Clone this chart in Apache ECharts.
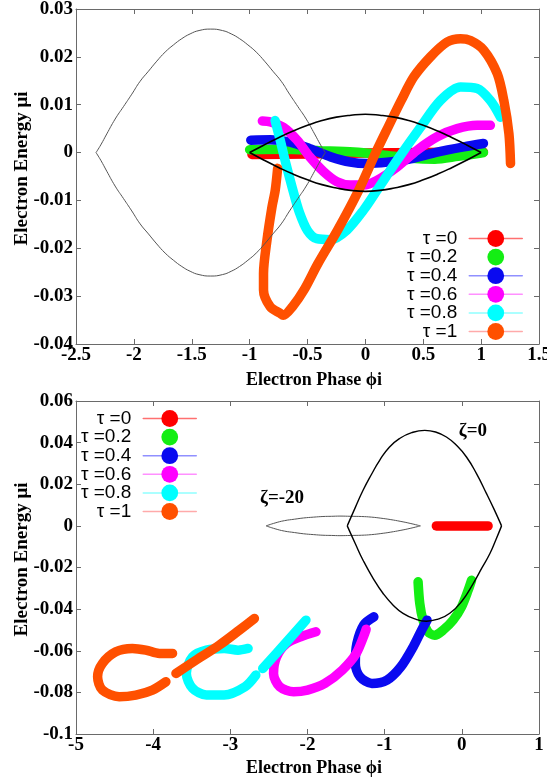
<!DOCTYPE html>
<html>
<head>
<meta charset="utf-8">
<script src="https://cdn.jsdelivr.net/npm/echarts@6/dist/echarts.min.js"></script>
<style>
  html, body { margin: 0; padding: 0; background: #fff; }
  #main { width: 547px; height: 780px; }
</style>
</head>
<body>
<div id="main"></div>
<script>
// ---- axis ticks ----
var topXTicks = [-2.5, -2, -1.5, -1, -0.5, 0, 0.5, 1, 1.5];
var topYTicks = [-0.04, -0.03, -0.02, -0.01, 0, 0.01, 0.02, 0.03];
var botXTicks = [-5, -4, -3, -2, -1, 0, 1];
var botYTicks = [-0.1, -0.08, -0.06, -0.04, -0.02, 0, 0.02, 0.04, 0.06];

var tauNames = ['τ =0', 'τ =0.2', 'τ =0.4', 'τ =0.6', 'τ =0.8', 'τ =1'];
var tauColors = ['#ff0000', '#14ee14', '#0a0af0', '#ff00ff', '#00ffff', '#ff5000'];
var legendLineColors = ['#ff7070', null, '#9090ff', '#ff90ff', '#90ffff', '#ffaaaa'];

// ---- upper panel: phase space trajectories (phase, energy) ----
var topTau0 = [[-0.98, -0.0004], [-0.5, -0.0003], [0, -0.0001], [0.5, 0.0000], [1.02, 0.0001]];
var topTau02 = [[-1.0, 0.0006], [-0.7, 0.0007], [-0.4, 0.0004], [-0.1, 0.0001], [0.15, -0.0005],
  [0.4, -0.0012], [0.6, -0.0014], [0.8, -0.0008], [1.0, -0.0001], [1.02, 0.0]];
var topTau04 = [[-0.99, 0.0026], [-0.82, 0.0027], [-0.65, 0.0022], [-0.48, 0.0008], [-0.3, -0.0009],
  [-0.13, -0.002], [0.015, -0.0023], [0.19, -0.002], [0.39, -0.0013], [0.62, 0.0001], [0.85, 0.0012], [1.02, 0.0019]];
var topTau06 = [[-0.89, 0.0066], [-0.82, 0.0064], [-0.71, 0.0053], [-0.59, 0.0026], [-0.48, -0.0009],
  [-0.36, -0.004], [-0.245, -0.0061], [-0.13, -0.0068], [-0.015, -0.0068], [0.1, -0.0058], [0.274, -0.003],
  [0.447, 0.0005], [0.62, 0.0033], [0.793, 0.005], [0.966, 0.0057], [1.08, 0.0057]];
var topTau08 = [[-0.78, 0.0067], [-0.74, 0.003], [-0.69, -0.002], [-0.63, -0.0075], [-0.57, -0.0125],
  [-0.5, -0.0163], [-0.42, -0.018], [-0.3, -0.0182], [-0.16, -0.0162], [-0.015, -0.012], [0.1, -0.0079],
  [0.274, -0.0016], [0.476, 0.0053], [0.649, 0.0109], [0.822, 0.0137], [0.966, 0.0134], [1.08, 0.0109], [1.168, 0.0074]];
var topTau1 = [[-0.758, -0.0033], [-0.779, -0.0079], [-0.807, -0.0114], [-0.85, -0.0183], [-0.88, -0.0253],
  [-0.88, -0.0287], [-0.822, -0.0322], [-0.735, -0.0336], [-0.71, -0.034], [-0.63, -0.0322], [-0.53, -0.0287],
  [-0.41, -0.0232], [-0.24, -0.0162], [-0.058, -0.0079], [0.09, 0.0], [0.2, 0.0055], [0.31, 0.0109],
  [0.418, 0.0158], [0.562, 0.02], [0.706, 0.0231], [0.822, 0.0238], [0.908, 0.0234], [1.023, 0.0214],
  [1.139, 0.0165], [1.196, 0.0109], [1.24, 0.004], [1.254, -0.0023]];

// separatrices, upper panel
var topOuterUp = [[-2.327, 0], [-2.286, 0.0016], [-2.234, 0.0039], [-2.162, 0.007], [-2.09, 0.0096],
  [-2.018, 0.0122], [-1.946, 0.0149], [-1.874, 0.017], [-1.802, 0.0191], [-1.73, 0.021],
  [-1.658, 0.0225], [-1.586, 0.0238], [-1.514, 0.0248], [-1.437, 0.0255], [-1.336, 0.0258],
  [-1.235, 0.0255], [-1.159, 0.0248], [-1.087, 0.0238], [-1.015, 0.0225], [-0.943, 0.021],
  [-0.871, 0.0191], [-0.799, 0.017], [-0.727, 0.0149], [-0.655, 0.0122], [-0.583, 0.0096],
  [-0.511, 0.007], [-0.439, 0.0039], [-0.387, 0.0016], [-0.346, 0]];
var topOuterLow = [[-2.327, 0], [-2.286, -0.0016], [-2.234, -0.0039], [-2.162, -0.007], [-2.09, -0.0096],
  [-2.018, -0.0122], [-1.946, -0.0149], [-1.874, -0.017], [-1.802, -0.0191], [-1.73, -0.021],
  [-1.658, -0.0225], [-1.586, -0.0238], [-1.514, -0.0248], [-1.437, -0.0255], [-1.336, -0.0258],
  [-1.235, -0.0255], [-1.159, -0.0248], [-1.087, -0.0238], [-1.015, -0.0225], [-0.943, -0.021],
  [-0.871, -0.0191], [-0.799, -0.017], [-0.727, -0.0149], [-0.655, -0.0122], [-0.583, -0.0096],
  [-0.511, -0.007], [-0.439, -0.0039], [-0.387, -0.0016], [-0.346, 0]];
var topInnerUp = [[-1, 0], [-0.875, 0.0016], [-0.75, 0.0031], [-0.625, 0.0045], [-0.5, 0.0057],
  [-0.375, 0.0067], [-0.25, 0.0074], [-0.125, 0.0078], [0, 0.008], [0.125, 0.0078], [0.25, 0.0074],
  [0.375, 0.0067], [0.5, 0.0057], [0.625, 0.0045], [0.75, 0.0031], [0.875, 0.0016], [1, 0]];
var topInnerLow = [[-1, 0], [-0.875, -0.0016], [-0.75, -0.0031], [-0.625, -0.0045], [-0.5, -0.0057],
  [-0.375, -0.0067], [-0.25, -0.0074], [-0.125, -0.0079], [0, -0.0081], [0.125, -0.0079], [0.25, -0.0074],
  [0.375, -0.0067], [0.5, -0.0057], [0.625, -0.0045], [0.75, -0.0031], [0.875, -0.0016], [1, 0]];

// ---- lower panel ----
var botTau0 = [[-0.33, 0], [0, 0], [0.34, 0]];
var botTau02 = [[-0.567, -0.0269], [-0.545, -0.0373], [-0.503, -0.0453], [-0.438, -0.0509], [-0.351, -0.0525],
  [-0.243, -0.0501], [-0.113, -0.0453], [-0.004, -0.0389], [0.082, -0.0309], [0.126, -0.0261]];
var botTau04 = [[-1.14, -0.0437], [-1.27, -0.0475], [-1.36, -0.0565], [-1.38, -0.0661], [-1.32, -0.0725],
  [-1.165, -0.0757], [-0.97, -0.0741], [-0.79, -0.0677], [-0.63, -0.0581], [-0.52, -0.05], [-0.45, -0.0453]];
var botTau06 = [[-1.89, -0.0509], [-2.09, -0.0533], [-2.27, -0.0565], [-2.4, -0.0629], [-2.44, -0.0709],
  [-2.36, -0.0773], [-2.18, -0.0797], [-2.0, -0.0789], [-1.774, -0.0757], [-1.549, -0.0693],
  [-1.368, -0.0613], [-1.24, -0.0497]];
var botTau08 = [[-2.77, -0.0589], [-2.9, -0.0597], [-3.08, -0.0589], [-3.31, -0.0597], [-3.49, -0.0629],
  [-3.57, -0.0709], [-3.49, -0.078], [-3.31, -0.0813], [-3.08, -0.0813], [-2.81, -0.0773], [-2.67, -0.0717],
  ['-', '-'], [-2.58, -0.0685], [-2.3, -0.057], [-2.02, -0.0453]];
var botTau1 = [[-3.749, -0.0613], [-3.92, -0.0613], [-4.095, -0.0597], [-4.27, -0.0589], [-4.484, -0.0605],
  [-4.658, -0.0661], [-4.72, -0.0725], [-4.658, -0.0789], [-4.44, -0.0821], [-4.225, -0.0813],
  [-4.01, -0.0789], [-3.835, -0.0749], ['-', '-'], [-3.705, -0.0709], [-3.445, -0.0645],
  [-3.143, -0.0573], [-2.883, -0.0501], [-2.688, -0.0445]];

// separatrices, lower panel
var zeta0Up = [[-1.485, 0], [-1.38, 0.0089], [-1.28, 0.0171], [-1.17, 0.0248], [-1.065, 0.0315],
  [-0.94, 0.0378], [-0.805, 0.042], [-0.65, 0.0448], [-0.48, 0.0459], [-0.34, 0.0451], [-0.2, 0.0427],
  [-0.07, 0.0387], [0.06, 0.0331], [0.19, 0.0251], [0.32, 0.0155], [0.42, 0.0078], [0.515, 0]];
var zeta0Low = [[-1.485, 0], [-1.38, -0.0086], [-1.28, -0.0165], [-1.15, -0.0252], [-1.02, -0.0325],
  [-0.89, -0.0381], [-0.762, -0.042], [-0.61, -0.0447], [-0.459, -0.0458], [-0.31, -0.0448],
  [-0.156, -0.042], [0.0, -0.0362], [0.147, -0.0277], [0.26, -0.0202], [0.364, -0.0133],
  [0.44, -0.0068], [0.515, 0]];
var zeta20Up = [[-2.536, 0], [-2.42, 0.0014], [-2.3, 0.0025], [-2.17, 0.0032], [-2.05, 0.0038],
  [-1.92, 0.0042], [-1.8, 0.0045], [-1.69, 0.0046], [-1.58, 0.0047], [-1.44, 0.0046], [-1.3, 0.0045],
  [-1.17, 0.0042], [-1.05, 0.0037], [-0.92, 0.003], [-0.8, 0.0022], [-0.67, 0.0012], [-0.537, 0]];
var zeta20Low = [[-2.536, 0], [-2.42, -0.0014], [-2.3, -0.0025], [-2.17, -0.0032], [-2.05, -0.0038],
  [-1.92, -0.0042], [-1.8, -0.0045], [-1.69, -0.0046], [-1.58, -0.0047], [-1.44, -0.0046], [-1.3, -0.0045],
  [-1.17, -0.0042], [-1.05, -0.0037], [-0.92, -0.003], [-0.8, -0.0022], [-0.67, -0.0012], [-0.537, 0]];

var zetaLabels = [{ name: 'ζ=0', value: [0.143, 0.0455] }, { name: 'ζ=-20', value: [-2.33, 0.0132] }];

var chart = echarts.init(document.getElementById('main'));

var serif = 'Liberation Serif';
var frameColor = '#6a6a6a';

function step(t) { return +(t[1] - t[0]).toFixed(4); }

function mainXAxis(grid, ticks, gap) {
  return {
    gridIndex: grid, type: 'value', position: 'bottom',
    min: ticks[0], max: ticks[ticks.length - 1], interval: step(ticks),
    axisLine: { show: true, onZero: false, lineStyle: { color: frameColor, width: 1 } },
    axisTick: { show: true, inside: true, length: 5, lineStyle: { color: frameColor } },
    axisLabel: { fontFamily: serif, fontWeight: 'bold', fontSize: 19, color: '#000', margin: 2 },
    splitLine: { show: false },
    name: 'Electron Phase ϕi', nameLocation: 'middle', nameGap: gap, nameMoveOverlap: false,
    nameTextStyle: { fontFamily: serif, fontWeight: 'bold', fontSize: 18, color: '#000', padding: [0, 0, 0, 13] }
  };
}
function mirrorXAxis(grid, ticks) {
  return {
    gridIndex: grid, type: 'value', position: 'top',
    min: ticks[0], max: ticks[ticks.length - 1], interval: step(ticks),
    axisLine: { show: true, onZero: false, lineStyle: { color: frameColor, width: 1 } },
    axisTick: { show: true, inside: true, length: 5, lineStyle: { color: frameColor } },
    axisLabel: { show: false }, splitLine: { show: false }
  };
}
function mainYAxis(grid, ticks) {
  return {
    gridIndex: grid, type: 'value', position: 'left',
    min: ticks[0], max: ticks[ticks.length - 1], interval: step(ticks),
    axisLine: { show: true, onZero: false, lineStyle: { color: frameColor, width: 1 } },
    axisTick: { show: true, inside: true, length: 5, lineStyle: { color: frameColor } },
    axisLabel: { fontFamily: serif, fontWeight: 'bold', fontSize: 19, color: '#000', margin: 3 },
    splitLine: { show: false },
    name: 'Electron Energy μi', nameLocation: 'middle', nameGap: 44, nameMoveOverlap: false,
    nameTextStyle: { fontFamily: serif, fontWeight: 'bold', fontSize: 19, color: '#000', padding: [0, 0, 0, 16] }
  };
}
function mirrorYAxis(grid, ticks) {
  return {
    gridIndex: grid, type: 'value', position: 'right',
    min: ticks[0], max: ticks[ticks.length - 1], interval: step(ticks),
    axisLine: { show: true, onZero: false, lineStyle: { color: frameColor, width: 1 } },
    axisTick: { show: true, inside: true, length: 5, lineStyle: { color: frameColor } },
    axisLabel: { show: false }, splitLine: { show: false }
  };
}

function thick(i, data, xi, yi) {
  return {
    name: tauNames[i], type: 'line', xAxisIndex: xi, yAxisIndex: yi, data: data,
    symbol: 'circle', showSymbol: false, smooth: 0.3, silent: true,
    lineStyle: { color: tauColors[i], width: 9.5, cap: 'round', join: 'round' },
    itemStyle: { color: tauColors[i] }
  };
}
function thin(data, color, width, xi, yi) {
  return {
    type: 'line', xAxisIndex: xi, yAxisIndex: yi, data: data,
    showSymbol: false, smooth: true, silent: true,
    lineStyle: { color: color, width: width }
  };
}

function legendData() {
  return tauNames.map(function (n, i) {
    var c = legendLineColors[i];
    return { name: n, lineStyle: c ? { color: c, width: 1.5, opacity: 1 } : { width: 0, opacity: 0 } };
  });
}
function legendAt(right, top) {
  return {
    orient: 'vertical', right: right, top: top, padding: 0,
    itemWidth: 53, itemHeight: 21, itemGap: -0.4, align: 'right',
    selectedMode: false,
    textStyle: { fontFamily: 'Liberation Sans', fontSize: 19, color: '#000', padding: [0, 7, 0, 0] },
    data: legendData()
  };
}

var topSets = [topTau0, topTau02, topTau04, topTau06, topTau08, topTau1];
var botSets = [botTau0, botTau02, botTau04, botTau06, botTau08, botTau1];

var series = [];
topSets.forEach(function (d, i) { series.push(thick(i, d, 0, 0)); });
series.push(thin(topOuterUp, '#555', 1, 0, 0));
series.push(thin(topOuterLow, '#555', 1, 0, 0));
series.push(thin(topInnerUp, '#000', 1.6, 0, 0));
series.push(thin(topInnerLow, '#000', 1.6, 0, 0));
botSets.forEach(function (d, i) { series.push(thick(i, d, 2, 2)); });
series.push(thin(zeta20Up, '#555', 1, 2, 2));
series.push(thin(zeta20Low, '#555', 1, 2, 2));
series.push(thin(zeta0Up, '#000', 1.4, 2, 2));
series.push(thin(zeta0Low, '#000', 1.4, 2, 2));
series.push({
  type: 'scatter', xAxisIndex: 2, yAxisIndex: 2, data: zetaLabels, symbolSize: 0.1, silent: true,
  itemStyle: { color: '#000' },
  label: { show: true, position: 'inside', formatter: '{b}', fontFamily: serif, fontWeight: 'bold', fontSize: 19, color: '#000', opacity: 1 }
});

chart.setOption({
  animation: false,
  backgroundColor: '#fff',
  grid: [
    { left: 76, right: 8, top: 9, height: 335, outerBoundsMode: 'none' },
    { left: 76, right: 8, top: 401, height: 333, outerBoundsMode: 'none' }
  ],
  legend: [legendAt(24, 229), legendAt(350, 409)],
  xAxis: [mainXAxis(0, topXTicks, 27), mirrorXAxis(0, topXTicks), mainXAxis(1, botXTicks, 25), mirrorXAxis(1, botXTicks)],
  yAxis: [mainYAxis(0, topYTicks), mirrorYAxis(0, topYTicks), mainYAxis(1, botYTicks), mirrorYAxis(1, botYTicks)],
  series: series
});
</script>
</body>
</html>
